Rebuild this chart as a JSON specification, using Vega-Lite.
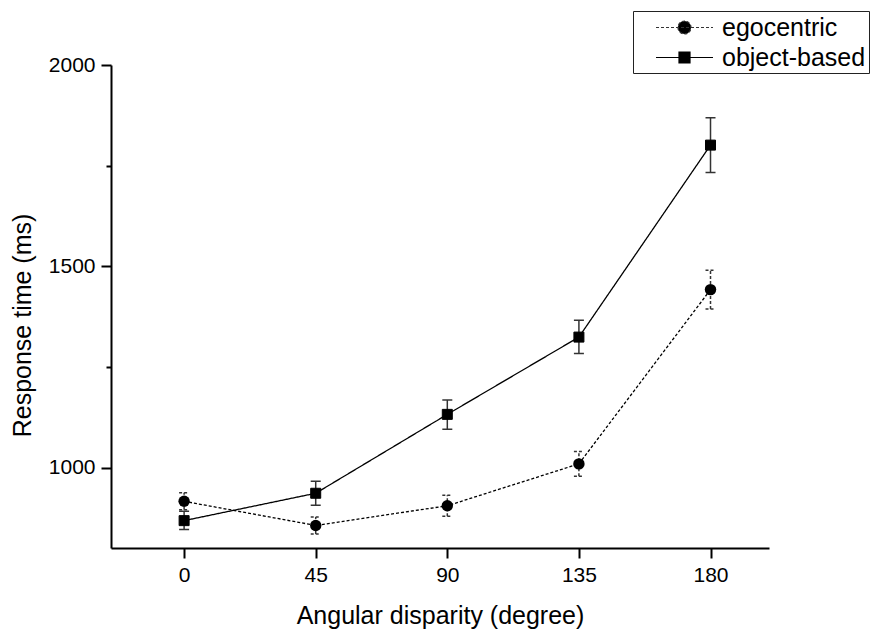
{
  "$schema": "https://vega.github.io/schema/vega-lite/v6.json",
  "width": 658,
  "height": 483,
  "autosize": {"type": "none"},
  "padding": {"left": 111, "top": 65, "right": 123, "bottom": 91},
  "background": "white",
  "config": {"view": {"stroke": null}, "font": "Liberation Sans"},
  "data": {
    "values": [
      {"angle": 0, "series": "egocentric", "rt": 916, "lo": 895, "hi": 937},
      {"angle": 45, "series": "egocentric", "rt": 856, "lo": 835, "hi": 877},
      {"angle": 90, "series": "egocentric", "rt": 905, "lo": 879, "hi": 931},
      {"angle": 135, "series": "egocentric", "rt": 1009, "lo": 978, "hi": 1040},
      {"angle": 180, "series": "egocentric", "rt": 1442, "lo": 1394, "hi": 1490},
      {"angle": 0, "series": "object-based", "rt": 868, "lo": 846, "hi": 891},
      {"angle": 45, "series": "object-based", "rt": 936, "lo": 906, "hi": 966},
      {"angle": 90, "series": "object-based", "rt": 1132, "lo": 1095, "hi": 1168},
      {"angle": 135, "series": "object-based", "rt": 1324, "lo": 1283, "hi": 1366},
      {"angle": 180, "series": "object-based", "rt": 1801, "lo": 1733, "hi": 1869}
    ]
  },
  "encoding": {
    "x": {
      "field": "angle",
      "type": "quantitative",
      "scale": {"domain": [-25, 200], "nice": false, "zero": false},
      "axis": {
        "title": "Angular disparity (degree)",
        "values": [0, 45, 90, 135, 180],
        "grid": false,
        "domainColor": "black",
        "domainWidth": 2,
        "tickColor": "black",
        "tickWidth": 2,
        "tickSize": 10,
        "labelFontSize": 21,
        "labelColor": "black",
        "labelPadding": 6,
        "titleFontSize": 25,
        "titleFontWeight": "normal",
        "titleColor": "black",
        "titleBaseline": "alphabetic",
        "titleY": 75
      }
    }
  },
  "layer": [
    {
      "mark": {"type": "rule", "strokeWidth": 1.5, "color": "#333"},
      "encoding": {
        "y": {
          "field": "lo",
          "type": "quantitative",
          "scale": {"domain": [800, 2000], "nice": false, "zero": false},
          "axis": {
            "title": "Response time (ms)",
            "values": [1000, 1250, 1500, 1750, 2000],
            "format": "d",
            "labelExpr": "datum.value % 500 === 0 ? datum.label : ''",
            "grid": false,
            "domainColor": "black",
            "domainWidth": 2,
            "tickColor": "black",
            "tickWidth": 2,
            "tickSize": {"condition": {"test": "datum.value % 500 === 0", "value": 10}, "value": 5},
            "labelFontSize": 21,
            "labelColor": "black",
            "labelPadding": 6,
            "titleFontSize": 25,
            "titleFontWeight": "normal",
            "titleColor": "black",
            "titleAngle": 270,
            "titleAlign": "center",
            "titleBaseline": "alphabetic",
            "titleX": -81,
            "titleY": 260
          }
        },
        "y2": {"field": "hi"},
        "strokeDash": {
          "field": "series",
          "type": "nominal",
          "scale": {"domain": ["egocentric", "object-based"], "range": [[3, 2], [1, 0]]}
        }
      }
    },
    {
      "mark": {"type": "rule", "strokeWidth": 1.5, "color": "#333", "xOffset": -5, "x2Offset": 5},
      "encoding": {
        "x2": {"field": "angle"},
        "y": {"field": "hi", "type": "quantitative"},
        "strokeDash": {"field": "series", "type": "nominal"}
      }
    },
    {
      "mark": {"type": "rule", "strokeWidth": 1.5, "color": "#333", "xOffset": -5, "x2Offset": 5},
      "encoding": {
        "x2": {"field": "angle"},
        "y": {"field": "lo", "type": "quantitative"},
        "strokeDash": {"field": "series", "type": "nominal"}
      }
    },
    {
      "mark": {"type": "line", "strokeWidth": 1.3, "color": "black"},
      "encoding": {
        "y": {"field": "rt", "type": "quantitative"},
        "detail": {"field": "series"},
        "strokeDash": {
          "field": "series",
          "type": "nominal",
          "legend": {
            "title": null,
            "orient": "none",
            "legendX": 522,
            "legendY": -54,
            "padding": 3,
            "rowPadding": 2,
            "strokeColor": "#222",
            "fillColor": "white",
            "symbolSize": 625,
            "symbolType": "M0.52,0H5.08M2.28,0A0.52,0.52 0 1,0 3.32,0A0.52,0.52 0 1,0 2.28,0Z",
            "symbolFillColor": "black",
            "symbolStrokeColor": "black",
            "symbolStrokeWidth": 1.2,
            "labelFontSize": 25,
            "labelColor": "black",
            "labelOffset": 59,
            "labelExpr": "datum.label + ' '",
            "zindex": 1
          }
        }
      }
    },
    {
      "transform": [{"filter": "datum.series === 'egocentric'"}],
      "mark": {"type": "point", "filled": true, "opacity": 1, "color": "black", "shape": "circle", "size": 130},
      "encoding": {
        "y": {"field": "rt", "type": "quantitative"}
      }
    },
    {
      "transform": [{"filter": "datum.series === 'object-based'"}],
      "mark": {"type": "point", "filled": true, "opacity": 1, "shape": "square", "size": 100, "stroke": "black", "strokeWidth": 1},
      "encoding": {
        "y": {"field": "rt", "type": "quantitative"},
        "color": {
          "field": "series",
          "type": "nominal",
          "scale": {"domain": ["object-based"], "range": ["black"]},
          "legend": {
            "title": null,
            "orient": "none",
            "legendX": 523,
            "legendY": -23,
            "padding": 2,
            "fillColor": "white",
            "symbolSize": 625,
            "symbolType": "M0.52,0H5.08M2.36,-0.44H3.24V0.44H2.36Z",
            "symbolStrokeColor": "black",
            "symbolStrokeWidth": 1.2,
            "labelFontSize": 25,
            "labelColor": "black",
            "labelOffset": 59,
            "labelExpr": "datum.label + ' '",
            "zindex": 2
          }
        }
      }
    }
  ]
}
